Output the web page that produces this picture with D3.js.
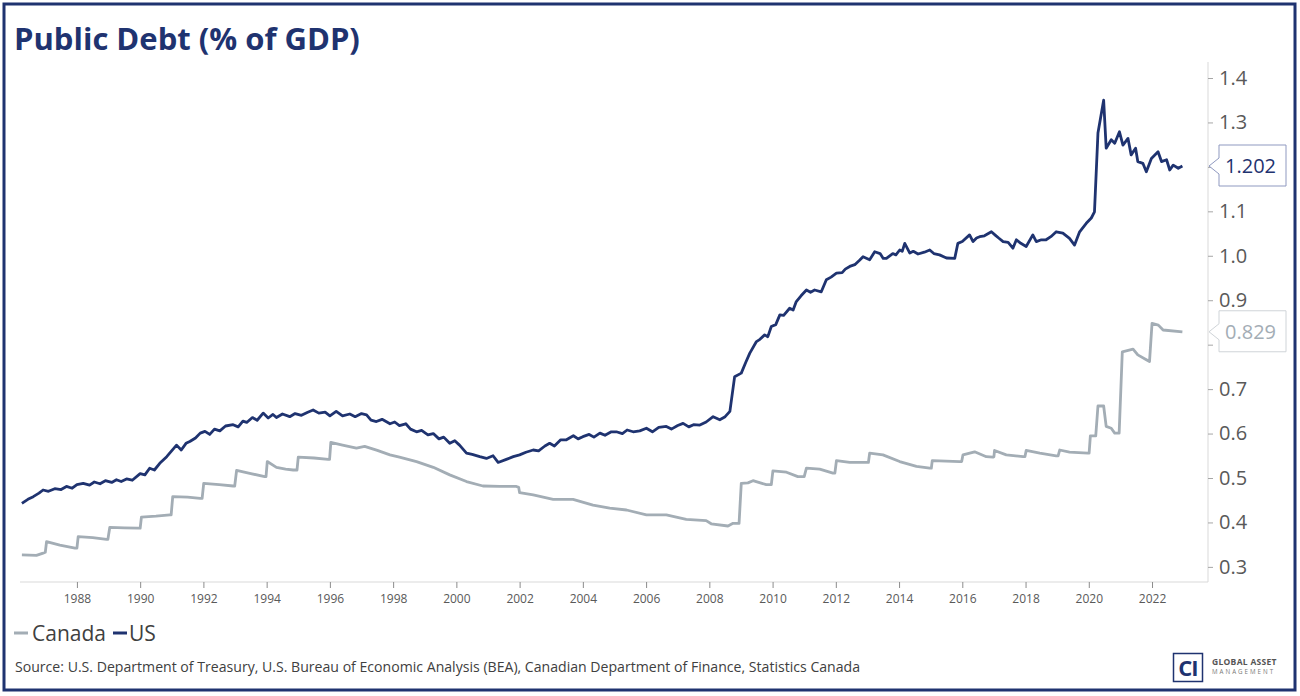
<!DOCTYPE html>
<html>
<head>
<meta charset="utf-8">
<script src="https://cdn.jsdelivr.net/npm/d3@7"></script>
<style>
  html, body { margin: 0; padding: 0; background: #fff; }
  svg { display: block; font-family: "Open Sans", "Noto Sans", sans-serif; }
</style>
</head>
<body>
<svg id="chart" width="1300" height="696"></svg>
<script>
// ---------- DATA (decimal year, debt / GDP ratio) ----------
const xTickYears = [1988,1990,1992,1994,1996,1998,2000,2002,2004,2006,2008,2010,2012,2014,2016,2018,2020,2022];
const yTickValues = [0.3,0.4,0.5,0.6,0.7,0.8,0.9,1.0,1.1,1.2,1.3,1.4];
const hiddenTickLabels = [0.8, 1.2]; // covered by the last-value callouts
const seriesNames = ["Canada", "US"];

const usYears = [1986.26,1986.45,1986.62,1986.8,1986.93,1987.1,1987.3,1987.5,1987.67,1987.85,1988.0,1988.2,1988.4,1988.55,1988.73,1988.9,1989.1,1989.25,1989.4,1989.57,1989.75,1990.0,1990.15,1990.3,1990.45,1990.62,1990.84,1991.15,1991.3,1991.45,1991.57,1991.75,1991.9,1992.05,1992.2,1992.35,1992.52,1992.7,1992.94,1993.1,1993.25,1993.37,1993.55,1993.7,1993.89,1994.05,1994.2,1994.31,1994.5,1994.73,1994.9,1995.1,1995.3,1995.47,1995.65,1995.85,1996.0,1996.2,1996.4,1996.63,1996.8,1997.0,1997.16,1997.3,1997.47,1997.65,1997.9,1998.05,1998.2,1998.4,1998.55,1998.74,1998.9,1999.1,1999.27,1999.45,1999.6,1999.79,1999.95,2000.1,2000.32,2000.5,2000.74,2000.95,2001.16,2001.32,2001.58,2001.8,2002.0,2002.2,2002.43,2002.6,2002.8,2002.95,2003.1,2003.3,2003.48,2003.7,2003.85,2004.0,2004.2,2004.35,2004.54,2004.7,2004.9,2005.06,2005.25,2005.4,2005.59,2005.8,2006.01,2006.2,2006.4,2006.64,2006.8,2007.0,2007.17,2007.35,2007.5,2007.7,2007.9,2008.12,2008.33,2008.5,2008.65,2008.8,2009.01,2009.15,2009.28,2009.49,2009.6,2009.75,2009.85,2009.96,2010.1,2010.23,2010.35,2010.54,2010.65,2010.75,2010.9,2011.07,2011.2,2011.33,2011.54,2011.7,2011.85,2012.02,2012.2,2012.3,2012.44,2012.6,2012.75,2012.86,2013.07,2013.23,2013.4,2013.5,2013.6,2013.8,2013.9,2014.02,2014.1,2014.18,2014.34,2014.45,2014.6,2014.8,2014.97,2015.1,2015.28,2015.5,2015.76,2015.86,2016.0,2016.23,2016.34,2016.45,2016.55,2016.7,2016.92,2017.05,2017.15,2017.29,2017.45,2017.6,2017.71,2017.85,2018.02,2018.23,2018.34,2018.5,2018.65,2018.8,2018.97,2019.18,2019.39,2019.55,2019.71,2019.92,2020.08,2020.18,2020.29,2020.47,2020.55,2020.71,2020.82,2020.97,2021.08,2021.24,2021.34,2021.48,2021.55,2021.71,2021.82,2021.98,2022.19,2022.30,2022.46,2022.56,2022.67,2022.83,2022.96];
const usValues = [0.443,0.452,0.458,0.466,0.473,0.470,0.476,0.474,0.481,0.477,0.485,0.488,0.484,0.491,0.487,0.494,0.490,0.496,0.492,0.498,0.495,0.510,0.507,0.522,0.518,0.533,0.548,0.574,0.563,0.578,0.582,0.590,0.601,0.605,0.598,0.610,0.606,0.617,0.620,0.615,0.628,0.625,0.636,0.630,0.646,0.635,0.643,0.636,0.644,0.638,0.645,0.641,0.648,0.653,0.646,0.648,0.640,0.650,0.640,0.644,0.638,0.645,0.642,0.630,0.627,0.632,0.622,0.626,0.618,0.622,0.610,0.604,0.607,0.597,0.600,0.588,0.592,0.578,0.584,0.574,0.556,0.553,0.548,0.544,0.550,0.535,0.542,0.548,0.552,0.558,0.563,0.561,0.572,0.578,0.572,0.586,0.586,0.595,0.588,0.593,0.598,0.592,0.601,0.596,0.604,0.604,0.600,0.608,0.604,0.606,0.612,0.604,0.614,0.616,0.610,0.618,0.623,0.615,0.620,0.619,0.626,0.638,0.631,0.638,0.650,0.728,0.736,0.760,0.781,0.807,0.812,0.822,0.818,0.841,0.845,0.867,0.866,0.882,0.878,0.897,0.910,0.923,0.918,0.923,0.919,0.946,0.952,0.961,0.962,0.970,0.976,0.980,0.990,0.998,0.991,1.009,1.005,0.994,0.994,1.005,1.002,1.013,1.010,1.028,1.006,1.010,1.004,1.008,1.013,1.005,1.002,0.995,0.994,1.028,1.032,1.047,1.032,1.040,1.043,1.045,1.054,1.046,1.040,1.032,1.030,1.017,1.036,1.028,1.021,1.047,1.032,1.036,1.036,1.043,1.054,1.051,1.039,1.024,1.054,1.073,1.085,1.099,1.276,1.350,1.242,1.261,1.253,1.279,1.249,1.264,1.227,1.242,1.212,1.208,1.189,1.219,1.234,1.212,1.216,1.193,1.204,1.197,1.202];

const canYears = [1986.26,1986.72,1986.93,1987.0,1987.04,1987.46,1987.94,1988.0,1988.04,1988.5,1988.94,1988.98,1989.04,1989.5,1989.94,1990.0,1990.04,1990.5,1990.94,1990.98,1991.03,1991.5,1991.9,1991.96,1992.01,1992.5,1992.94,1992.99,1993.05,1993.5,1993.94,1993.98,1994.02,1994.31,1994.6,1994.84,1994.96,1995.0,1995.5,1995.95,1995.99,1996.03,1996.4,1996.84,1997.1,1997.5,1997.9,1998.2,1998.74,1999.27,1999.79,2000.32,2000.84,2001.37,2001.9,2001.97,2002.0,2002.43,2003.06,2003.69,2004.32,2004.85,2005.38,2006.01,2006.64,2007.27,2007.9,2008.06,2008.59,2008.75,2008.94,2009.01,2009.22,2009.38,2009.8,2009.96,2010.01,2010.44,2010.8,2011.0,2011.07,2011.49,2011.91,2011.97,2012.02,2012.44,2012.97,2013.03,2013.07,2013.49,2014.02,2014.55,2014.97,2015.02,2015.05,2015.92,2015.98,2016.02,2016.39,2016.76,2016.97,2017.0,2017.02,2017.39,2017.92,2017.98,2018.02,2018.45,2018.97,2019.03,2019.08,2019.39,2019.97,2020.01,2020.05,2020.22,2020.29,2020.47,2020.55,2020.71,2020.82,2020.96,2021.06,2021.4,2021.55,2021.82,2021.92,2022.0,2022.2,2022.35,2022.96];
const canValues = [0.327,0.326,0.331,0.333,0.357,0.349,0.342,0.342,0.368,0.366,0.362,0.362,0.389,0.388,0.387,0.387,0.412,0.414,0.417,0.417,0.458,0.457,0.454,0.454,0.488,0.485,0.482,0.482,0.517,0.510,0.503,0.503,0.537,0.524,0.520,0.518,0.518,0.547,0.545,0.542,0.542,0.580,0.574,0.567,0.571,0.562,0.552,0.547,0.537,0.524,0.507,0.492,0.482,0.481,0.481,0.479,0.467,0.462,0.452,0.452,0.439,0.432,0.428,0.417,0.417,0.407,0.404,0.397,0.392,0.398,0.398,0.488,0.489,0.494,0.485,0.485,0.516,0.513,0.503,0.503,0.522,0.520,0.511,0.511,0.539,0.535,0.535,0.535,0.556,0.552,0.537,0.526,0.522,0.522,0.539,0.537,0.537,0.552,0.559,0.548,0.547,0.548,0.562,0.552,0.548,0.548,0.562,0.556,0.550,0.550,0.563,0.558,0.556,0.556,0.595,0.595,0.662,0.662,0.616,0.612,0.601,0.601,0.784,0.790,0.777,0.766,0.762,0.848,0.844,0.833,0.829];

const lastLabels = ["0.829", "1.202"];
const titleText = "Public Debt (% of GDP)";
const sourceText = "Source: U.S. Department of Treasury, U.S. Bureau of Economic Analysis (BEA), Canadian Department of Finance, Statistics Canada";

// ---------- STYLE ----------
const NAVY = "#1f3370";
const GREY = "#a3adb5";
const TEXT = "#595959";

const svg = d3.select("#chart");

// frame
svg.append("rect").attr("x", 4).attr("y", 4).attr("width", 1291).attr("height", 686)
  .attr("fill", "#fff").attr("stroke", NAVY).attr("stroke-width", 3);

// title
svg.append("text").attr("x", 14).attr("y", 50)
  .attr("font-size", 31).attr("font-weight", 700).attr("fill", NAVY)
  .text(titleText);

const x = d3.scaleLinear().domain([1986.2, 2023.77]).range([20, 1208]);
const y = d3.scaleLinear().domain([0.266, 1.436]).range([582, 62]);

// axes lines
svg.append("line").attr("x1", 20).attr("x2", 1208).attr("y1", 582).attr("y2", 582)
  .attr("stroke", "#d9d9d9").attr("stroke-width", 1);
svg.append("line").attr("x1", 1208).attr("x2", 1208).attr("y1", 62).attr("y2", 582)
  .attr("stroke", "#d9d9d9").attr("stroke-width", 1);

// x axis
const xAxis = svg.append("g").attr("transform", "translate(0,582)")
  .call(d3.axisBottom(x).tickValues(xTickYears).tickFormat(d3.format("d")).tickSize(6).tickPadding(6));
xAxis.select(".domain").remove();
xAxis.selectAll(".tick line").attr("stroke", "#8c8c8c");
xAxis.selectAll(".tick text").attr("fill", TEXT).attr("font-size", 12)
  .attr("font-family", "'Open Sans', sans-serif");

// y axis (right)
const yAxis = svg.append("g").attr("transform", "translate(1208,0)")
  .call(d3.axisRight(y).tickValues(yTickValues)
    .tickFormat(v => hiddenTickLabels.some(h => Math.abs(h - v) < 1e-9) ? "" : d3.format(".1f")(v))
    .tickSize(5).tickPadding(6));
yAxis.select(".domain").remove();
yAxis.selectAll(".tick line").attr("stroke", "#a6a6a6");
yAxis.selectAll(".tick text").attr("fill", TEXT).attr("font-size", 20)
  .attr("font-family", "'Open Sans', sans-serif");

// lines
const line = d3.line().x(d => x(d[0])).y(d => y(d[1]));
const canData = canYears.map((t, i) => [t, canValues[i]]);
const usData = usYears.map((t, i) => [t, usValues[i]]);

svg.append("path").datum(canData).attr("d", line)
  .attr("fill", "none").attr("stroke", GREY).attr("stroke-width", 2.8).attr("stroke-linejoin", "round");
svg.append("path").datum(usData).attr("d", line)
  .attr("fill", "none").attr("stroke", NAVY).attr("stroke-width", 2.8).attr("stroke-linejoin", "round");

// last value callouts
function callout(val, label, stroke, color) {
  const yy = y(val);
  const g = svg.append("g");
  const xl = 1219, xr = 1286, xp = 1209;
  const pts = [[xp, yy], [xl, yy - 8], [xl, yy - 21], [xr, yy - 21], [xr, yy + 20], [xl, yy + 20], [xl, yy + 8]];
  g.append("path").attr("d", "M" + pts.map(p => p.join(",")).join("L") + "Z")
    .attr("fill", "#fff").attr("stroke", stroke).attr("stroke-width", 1);
  g.append("text").attr("x", 1225).attr("y", yy).attr("dy", "0.35em")
    .attr("font-size", 20).attr("fill", color).text(label);
}
callout(canValues[canValues.length - 1], lastLabels[0], "#cfd4d8", GREY);
callout(usValues[usValues.length - 1], lastLabels[1], "#8f99c0", NAVY);

// legend
const legend = svg.append("g");
const legendItems = [
  { name: seriesNames[0], color: GREY, x0: 14, tx: 32 },
  { name: seriesNames[1], color: NAVY, x0: 113, tx: 129 }
];
legendItems.forEach(it => {
  legend.append("line").attr("x1", it.x0).attr("x2", it.x0 + 14).attr("y1", 633).attr("y2", 633)
    .attr("stroke", it.color).attr("stroke-width", 3);
  legend.append("text").attr("x", it.tx).attr("y", 641).attr("font-size", 21).attr("fill", "#404040")
    .text(it.name);
});

// source
svg.append("text").attr("x", 15).attr("y", 672).attr("font-size", 14.1).attr("fill", "#404040")
  .text(sourceText);

// logo
const logo = svg.append("g");
logo.append("rect").attr("x", 1173.5).attr("y", 653.5).attr("width", 29).attr("height", 28)
  .attr("fill", "#fff").attr("stroke", NAVY).attr("stroke-width", 1.5);
logo.append("text").attr("x", 1188).attr("y", 676).attr("text-anchor", "middle")
  .attr("font-size", 22).attr("font-weight", 700).attr("fill", NAVY).attr("letter-spacing", -1).text("CI");
logo.append("text").attr("x", 1212).attr("y", 665).attr("font-size", 8.5).attr("font-weight", 700)
  .attr("fill", "#555").attr("letter-spacing", 0.3).text("GLOBAL ASSET");
logo.append("text").attr("x", 1212).attr("y", 674).attr("font-size", 6.2)
  .attr("fill", "#777").attr("letter-spacing", 2).text("MANAGEMENT");
</script>
</body>
</html>
